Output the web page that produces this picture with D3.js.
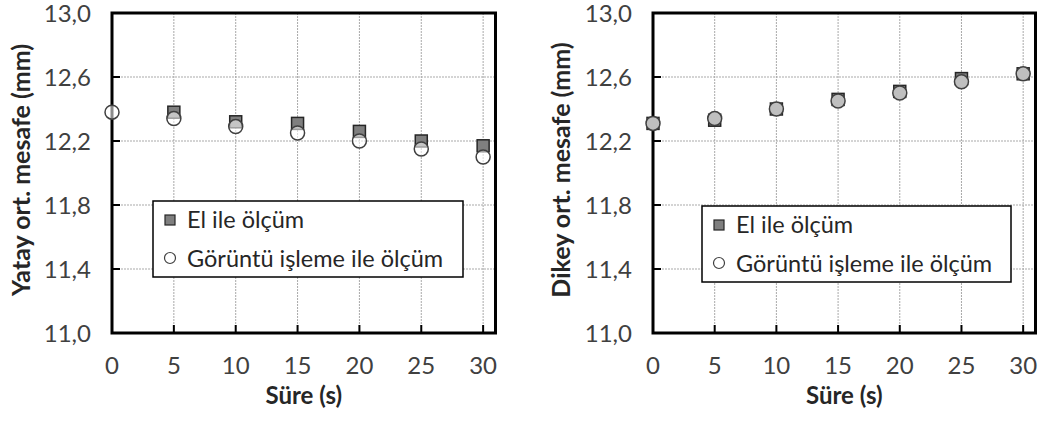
<!DOCTYPE html>
<html>
<head>
<meta charset="utf-8">
<script src="https://cdn.jsdelivr.net/npm/d3@7"></script>
<style>
    body { margin: 0; background: #fff; }
    svg { display: block; font-family: Lato, 'Open Sans', sans-serif; }
    .tick-label { font-size: 24px; fill: #404040; }
    .axis-title { font-size: 24px; font-weight: bold; fill: #262626; }
    .y-title { font-size: 25px; }
    .legend-text { font-size: 23.5px; fill: #262626; }
    .grid line { stroke: #a9a9a9; stroke-width: 1; stroke-dasharray: 2,1; }
</style>
</head>
<body>
<div id="chart"></div>
<script>
// time values (s)
const times = [0, 5, 10, 15, 20, 25, 30];

// horizontal mean distance (mm); no hand measurement drawn at t = 0
const yatayEl = [null, 12.38, 12.32, 12.31, 12.26, 12.20, 12.17];
const yatayGoruntu = [12.38, 12.34, 12.29, 12.25, 12.20, 12.15, 12.10];

// vertical mean distance (mm)
const dikeyEl = [12.31, 12.33, 12.40, 12.46, 12.51, 12.59, 12.62];
const dikeyGoruntu = [12.31, 12.34, 12.40, 12.45, 12.50, 12.57, 12.62];

const xTicks = [0, 5, 10, 15, 20, 25, 30];
const yTicks = [11.0, 11.4, 11.8, 12.2, 12.6, 13.0];
const seriesNames = ['El ile ölçüm', 'Görüntü işleme ile ölçüm'];

const formatY = d => d3.format('.1f')(d).replace('.', ',');

const svg = d3.select('#chart')
    .append('svg')
        .attr('width', 1046)
        .attr('height', 421);

const panels = [
    {
        left: 112, right: 495.5,
        yTitle: 'Yatay ort. mesafe (mm)', titleX: 21,
        el: yatayEl, goruntu: yatayGoruntu,
        circleFill: '#fff', circleOpacity: 0.55,
        legend: { x: 153, y: 201, w: 310, h: 76 }
    },
    {
        left: 653, right: 1035.5,
        yTitle: 'Dikey ort. mesafe (mm)', titleX: 561,
        el: dikeyEl, goruntu: dikeyGoruntu,
        circleFill: '#bfbfbf', circleOpacity: 1,
        legend: { x: 702, y: 206, w: 309, h: 76 }
    }
];

const plotTop = 13;
const plotBottom = 333;

panels.forEach(p => {
    const g = svg.append('g');

    const xScale = d3.scaleLinear()
        .domain([0, 31])
        .range([p.left, p.right]);

    const yScale = d3.scaleLinear()
        .domain([11, 13])
        .range([plotBottom, plotTop]);

    // grid
    const grid = g.append('g').classed('grid', true);
    grid.selectAll('.vgrid')
        .data(xTicks.filter(d => d > 0))
        .join('line')
            .attr('x1', d => xScale(d))
            .attr('x2', d => xScale(d))
            .attr('y1', plotTop)
            .attr('y2', plotBottom);
    grid.selectAll('.hgrid')
        .data(yTicks.filter(d => d > 11 && d < 13))
        .join('line')
            .attr('x1', p.left)
            .attr('x2', p.right)
            .attr('y1', d => yScale(d))
            .attr('y2', d => yScale(d));

    // inner ticks
    g.selectAll('.xtick')
        .data(xTicks.filter(d => d > 0))
        .join('line')
            .attr('x1', d => xScale(d))
            .attr('x2', d => xScale(d))
            .attr('y1', plotBottom)
            .attr('y2', plotBottom - 8)
            .attr('stroke', '#000')
            .attr('stroke-width', 2);
    g.selectAll('.ytick')
        .data(yTicks.filter(d => d > 11 && d < 13))
        .join('line')
            .attr('x1', p.left)
            .attr('x2', p.left + 8)
            .attr('y1', d => yScale(d))
            .attr('y2', d => yScale(d))
            .attr('stroke', '#000')
            .attr('stroke-width', 2);

    // frame
    g.append('rect')
        .attr('x', p.left)
        .attr('y', plotTop)
        .attr('width', p.right - p.left)
        .attr('height', plotBottom - plotTop)
        .attr('fill', 'none')
        .attr('stroke', '#000')
        .attr('stroke-width', 3);

    // tick labels
    g.selectAll('.xlab')
        .data(xTicks)
        .join('text')
            .classed('tick-label', true)
            .attr('x', d => xScale(d))
            .attr('y', 374)
            .attr('text-anchor', 'middle')
            .text(d => d);
    g.selectAll('.ylab')
        .data(yTicks)
        .join('text')
            .classed('tick-label', true)
            .attr('x', p.left - 21)
            .attr('y', d => yScale(d) + 9)
            .attr('text-anchor', 'end')
            .text(formatY);

    // titles
    g.append('text')
        .classed('axis-title', true)
        .attr('x', (p.left + p.right) / 2)
        .attr('y', 404)
        .attr('text-anchor', 'middle')
        .text('Süre (s)');
    g.append('text')
        .classed('axis-title y-title', true)
        .attr('transform', `translate(${p.titleX},170) rotate(-90)`)
        .attr('dy', '0.35em')
        .attr('text-anchor', 'middle')
        .text(p.yTitle);

    // squares
    const sq = 12;
    g.selectAll('.sq')
        .data(times.map((t, i) => ({ t, v: p.el[i] })).filter(d => d.v !== null))
        .join('rect')
            .attr('x', d => xScale(d.t) - sq / 2)
            .attr('y', d => yScale(d.v) - sq / 2)
            .attr('width', sq)
            .attr('height', sq)
            .attr('fill', '#7f7f7f')
            .attr('stroke', '#262626')
            .attr('stroke-width', 1.5);

    // circles
    g.selectAll('.pt')
        .data(times.map((t, i) => ({ t, v: p.goruntu[i] })))
        .join('circle')
            .attr('cx', d => xScale(d.t))
            .attr('cy', d => yScale(d.v))
            .attr('r', 7)
            .attr('fill', p.circleFill)
            .attr('fill-opacity', p.circleOpacity)
            .attr('stroke', '#404040')
            .attr('stroke-width', 1.5);

    // legend
    const lg = g.append('g')
        .attr('transform', `translate(${p.legend.x},${p.legend.y})`);
    lg.append('rect')
        .attr('width', p.legend.w)
        .attr('height', p.legend.h)
        .attr('fill', '#fff')
        .attr('stroke', '#000')
        .attr('stroke-width', 1.5);
    lg.append('rect')
        .attr('x', 12)
        .attr('y', 14)
        .attr('width', 10)
        .attr('height', 10)
        .attr('fill', '#7f7f7f')
        .attr('stroke', '#262626')
        .attr('stroke-width', 1.2);
    lg.append('circle')
        .attr('cx', 17)
        .attr('cy', 57)
        .attr('r', 5.5)
        .attr('fill', '#fff')
        .attr('stroke', '#404040')
        .attr('stroke-width', 1.2);
    lg.selectAll('.legend-text')
        .data(seriesNames)
        .join('text')
            .classed('legend-text', true)
            .attr('x', 34)
            .attr('y', (d, i) => 27 + i * 39)
            .text(d => d);
});
</script>
</body>
</html>
